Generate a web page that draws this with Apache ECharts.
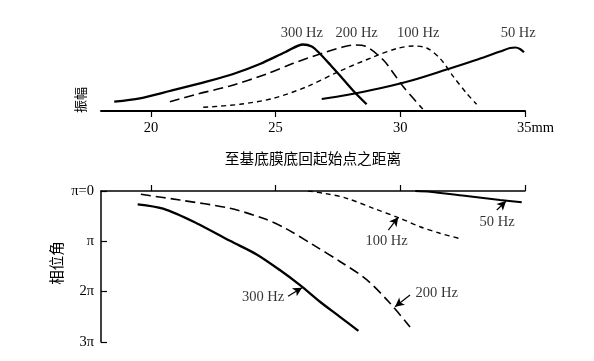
<!DOCTYPE html>
<html>
<head>
<meta charset="utf-8">
<script src="https://cdn.jsdelivr.net/npm/echarts@6/dist/echarts.min.js"></script>
<style>html,body{margin:0;padding:0;background:#fff;}#c{width:594px;height:361px;}</style>
</head>
<body>
<div id="c"></div>
<script>
// ---- Data (x in mm from base of cochlea) ----
var xTicks = [20, 25, 30, 35];
// Amplitude (arbitrary units)
var amp300 = [[18.53,9.3],[19.56,12.7],[20.76,20],[22.23,29.3],[23.30,37],[24.37,47],[25.4,59],[26.1,66.5],[26.45,64.5],[26.75,58],[27.2,46],[27.7,32],[28.2,18],[28.65,6.7]];
var amp200 = [[20.76,9.3],[21.83,16.7],[23.17,25],[24.64,37],[25.71,47.7],[27.05,59.3],[27.7,64],[28.15,66],[28.6,64.8],[29.32,51],[29.72,38],[30.12,24.3],[30.52,12.7],[30.90,2]];
var amp100 = [[22.10,3.7],[23.57,6.7],[24.91,12.7],[26.25,24.3],[27.58,40],[28.92,54],[29.86,62.5],[30.52,65],[31.06,63],[31.59,52.7],[32.13,34.3],[32.66,17.7],[33.06,6.7]];
var amp50 = [[26.85,12],[27.85,16],[29.19,22.7],[30.52,31],[31.86,41.5],[33.1,51.5],[34.0,59.5],[34.4,63],[34.62,63.5],[34.8,62],[34.96,58.7]];
// Phase (in units of pi)
var ph300 = [[19.47,0.264],[20.49,0.352],[21.83,0.64],[23.17,0.99],[24.24,1.26],[25.17,1.57],[25.98,1.87],[26.78,2.20],[27.58,2.50],[28.32,2.78]];
var ph200 = [[19.60,0.066],[21.16,0.179],[23.17,0.344],[24.50,0.543],[25.37,0.735],[26.51,1.07],[27.58,1.40],[28.65,1.76],[29.59,2.23],[30.39,2.70]];
var ph100 = [[26.3,0.0],[27.0,0.05],[27.85,0.145],[28.92,0.344],[29.99,0.543],[30.79,0.71],[31.59,0.84],[32.46,0.954]];
var ph50 = [[30.6,0],[31.19,0.015],[32.66,0.10],[34.00,0.179],[34.87,0.225]];
var phaseTickLabels = ['π=0', 'π', '2π', '3π'];
// Labels
var ampLabels = [{name:'300 Hz', value:[26.05,78]},{name:'200 Hz', value:[28.25,78]},{name:'100 Hz', value:[30.72,78]},{name:'50 Hz', value:[34.73,78]}];
var phLabels = [{name:'300 Hz', value:[24.50,2.1]},{name:'200 Hz', value:[31.46,2.03]},{name:'100 Hz', value:[29.45,0.99]},{name:'50 Hz', value:[33.88,0.62]}];
var arrows = {
  '300': [[25.50,2.09],[26.06,1.92]],
  '200': [[30.39,2.066],[29.79,2.30]],
  '100': [[29.52,0.775],[29.92,0.52]],
  '50':  [[33.87,0.378],[34.24,0.20]]
};

var serif = '"Liberation Serif", "Times New Roman", serif';
var cjk = '"Noto Sans CJK SC", sans-serif';
var ink = '#000';

function arrowLine(pair) {
  return {
    silent: true, animation: false,
    symbol: ['none', 'arrow'], symbolSize: 9,
    label: {show: false},
    itemStyle: {color: ink},
    lineStyle: {type: 'solid', width: 1.2, color: ink},
    emphasis: {disabled: true},
    data: [[{coord: pair[0]}, {coord: pair[1], symbol: 'arrow', symbolSize: [7, 9]}]]
  };
}
function curve(name, data, xi, yi, width, dash, arrow) {
  var s = {
    name: name, type: 'line', xAxisIndex: xi, yAxisIndex: yi, data: data,
    smooth: 0.3, showSymbol: false, symbol: 'none', silent: true,
    itemStyle: {color: ink},
    lineStyle: {color: ink, width: width, type: dash}
  };
  if (arrow) s.markLine = arrowLine(arrow);
  return s;
}

var chart = echarts.init(document.getElementById('c'), null, {renderer: 'canvas'});
chart.setOption({
  animation: false,
  backgroundColor: '#fff',
  grid: [
    {left: 101, right: 69, top: 31, bottom: 250},
    {left: 101, right: 69, top: 191, bottom: 19}
  ],
  xAxis: [
    {
      gridIndex: 0, type: 'value', min: 18, max: 35, position: 'bottom',
      axisLine: {lineStyle: {color: ink, width: 2}},
      axisTick: {show: true, customValues: xTicks, length: 6, inside: false, lineStyle: {color: ink, width: 1.2}},
      axisLabel: {
        customValues: xTicks, margin: 10, color: ink, fontFamily: serif, fontSize: 14.5,
        formatter: function (v) { return v === 35 ? '{u|35mm}' : String(v); },
        rich: {u: {fontFamily: serif, fontSize: 14.5, color: ink, padding: [0, 0, 0, 21]}}
      },
      splitLine: {show: false},
      name: '至基底膜底回起始点之距离', nameLocation: 'middle', nameGap: 40,
      nameTextStyle: {fontFamily: cjk, fontSize: 14.7, color: ink}
    },
    {
      gridIndex: 1, type: 'value', min: 18, max: 35, position: 'top',
      axisLine: {lineStyle: {color: ink, width: 1.5}},
      axisTick: {show: true, customValues: xTicks, length: 6, inside: false, lineStyle: {color: ink, width: 1.2}},
      axisLabel: {show: false},
      splitLine: {show: false}
    }
  ],
  yAxis: [
    {gridIndex: 0, type: 'value', min: 0, max: 80, show: false},
    {
      gridIndex: 1, type: 'value', min: 0, max: 3, interval: 1, inverse: true,
      axisLine: {show: true, lineStyle: {color: ink, width: 1.5}},
      axisTick: {show: true, inside: true, length: 6, lineStyle: {color: ink, width: 1.2}},
      axisLabel: {
        margin: 7, color: ink, fontFamily: serif, fontSize: 14.5,
        formatter: function (v) { return phaseTickLabels[Math.round(v)]; }
      },
      splitLine: {show: false}
    }
  ],
  graphic: [
    {type: 'text', x: 80, y: 100, rotation: Math.PI / 2, silent: true,
     style: {text: '振幅', font: '13px ' + cjk, fill: ink, align: 'center', verticalAlign: 'middle', textAlign: 'center', textVerticalAlign: 'middle'}},
    {type: 'text', x: 56, y: 263, rotation: Math.PI / 2, silent: true,
     style: {text: '相位角', font: '14.5px ' + cjk, fill: ink, align: 'center', verticalAlign: 'middle', textAlign: 'center', textVerticalAlign: 'middle'}}
  ],
  series: [
    curve('300 Hz', amp300, 0, 0, 2.3, 'solid'),
    curve('200 Hz', amp200, 0, 0, 1.6, [10, 5]),
    curve('100 Hz', amp100, 0, 0, 1.4, [5, 4]),
    curve('50 Hz', amp50, 0, 0, 2.1, 'solid'),
    curve('300 Hz φ', ph300, 1, 1, 2.3, 'solid', arrows['300']),
    curve('200 Hz φ', ph200, 1, 1, 1.6, [10, 5], arrows['200']),
    curve('100 Hz φ', ph100, 1, 1, 1.4, [5, 4], arrows['100']),
    curve('50 Hz φ', ph50, 1, 1, 2.1, 'solid', arrows['50']),
    {
      type: 'scatter', xAxisIndex: 0, yAxisIndex: 0, data: ampLabels, symbolSize: 0, silent: true,
      label: {show: true, position: 'inside', formatter: function (p) { return p.name; }, fontFamily: serif, fontSize: 14.5, color: ink}
    },
    {
      type: 'scatter', xAxisIndex: 1, yAxisIndex: 1, data: phLabels, symbolSize: 0, silent: true,
      label: {show: true, position: 'inside', formatter: function (p) { return p.name; }, fontFamily: serif, fontSize: 14.5, color: ink}
    }
  ]
});
</script>
</body>
</html>
